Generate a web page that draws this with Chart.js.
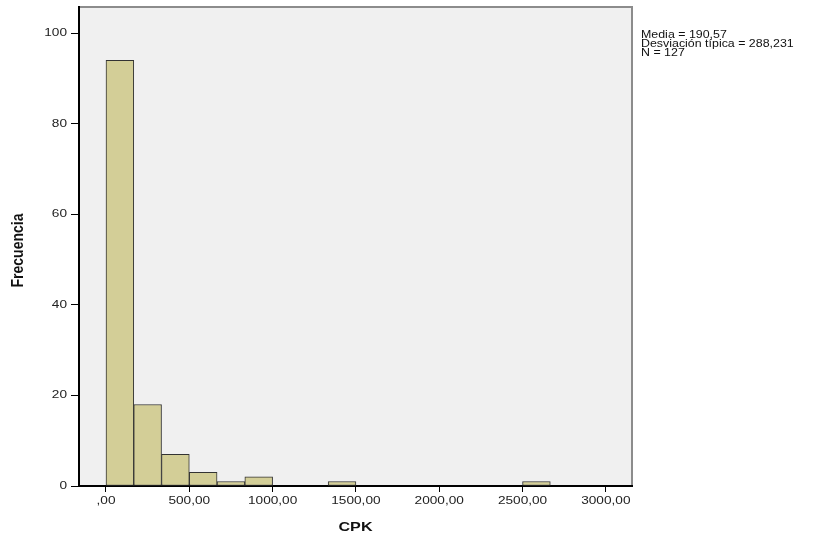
<!DOCTYPE html>
<html>
<head>
<meta charset="utf-8">
<script src="https://cdn.jsdelivr.net/npm/chart.js@4/dist/chart.umd.min.js"></script>
<style>
  html, body { margin: 0; padding: 0; background: #fff; }
  #wrap { width: 826px; height: 538px; }
</style>
</head>
<body>
<div id="wrap"><canvas id="histo" width="826" height="538"></canvas></div>
<script>
// Histogram of CPK: 18 bins of equal width between 0 and 3000
const binMin = 0;
const binMax = 3000;
const counts = [94, 18, 7, 3, 1, 2, 0, 0, 1, 0, 0, 0, 0, 0, 0, 1, 0, 0];
const xTicks = [0, 500, 1000, 1500, 2000, 2500, 3000];
const yTicks = [0, 20, 40, 60, 80, 100];
const statsLines = ['Media = 190,57', 'Desviación típica = 288,231', 'N = 127'];
const xTitle = 'CPK';
const yTitle = 'Frecuencia';

const binWidth = (binMax - binMin) / counts.length;
const points = counts.map((c, i) => ({
    x: binMin + binWidth * (i + 0.5),
    y: c > 0 ? c : null
}));

const FONT = '"Liberation Sans", Arial, sans-serif';
const STRETCH = 1.24; // the SPSS export is a bit wider than tall

function fmtX(v) {
    return v === 0 ? ',00' : v + ',00';
}

// draw text stretched horizontally around an anchor
function wideText(ctx, text, x, y, align) {
    ctx.save();
    ctx.translate(x, y);
    ctx.scale(STRETCH, 1);
    ctx.textAlign = align;
    ctx.fillText(text, 0, 0);
    ctx.restore();
}

// grey plot background + frame, like SPSS output
const frame = {
    id: 'frame',
    beforeDraw(chart) {
        const { ctx, chartArea: a } = chart;
        ctx.save();
        ctx.fillStyle = '#f0f0f0';
        ctx.fillRect(a.left, a.top, a.right - a.left, a.bottom - a.top);
        ctx.strokeStyle = '#8c8c8c';
        ctx.lineWidth = 2;
        ctx.beginPath();
        ctx.moveTo(a.left, a.top);
        ctx.lineTo(a.right, a.top);
        ctx.lineTo(a.right, a.bottom);
        ctx.stroke();
        ctx.restore();
    },
    afterDraw(chart) {
        const { ctx, chartArea: a, scales } = chart;
        ctx.save();
        ctx.textBaseline = 'middle';

        // tick labels
        ctx.fillStyle = '#222';
        ctx.font = '11px ' + FONT;
        xTicks.forEach(v => wideText(ctx, fmtX(v), scales.x.getPixelForValue(v), a.bottom + 15, 'center'));
        yTicks.forEach(v => wideText(ctx, String(v), a.left - 12, scales.y.getPixelForValue(v), 'right'));

        // axis titles
        ctx.fillStyle = '#111';
        ctx.font = 'bold 13px ' + FONT;
        wideText(ctx, xTitle, (a.left + a.right) / 2, 527, 'center');

        ctx.save();
        ctx.translate(19, (a.top + a.bottom) / 2 + 4);
        ctx.rotate(-Math.PI / 2);
        ctx.scale(1, 1.15);
        ctx.font = 'bold 14px ' + FONT;
        ctx.textAlign = 'center';
        ctx.fillText(yTitle, 0, 0);
        ctx.restore();

        // summary statistics text
        ctx.font = '10px ' + FONT;
        statsLines.forEach((t, i) => wideText(ctx, t, a.right + 9, 35.5 + i * 8.7, 'left'));
        ctx.restore();
    }
};

new Chart(document.getElementById('histo').getContext('2d'), {
    type: 'bar',
    data: {
        datasets: [{
            data: points,
            backgroundColor: '#d3ce97',
            borderColor: '#333333',
            borderWidth: 1,
            borderSkipped: false,
            barPercentage: 1,
            categoryPercentage: 1,
            grouped: false
        }]
    },
    options: {
        responsive: false,
        animation: false,
        devicePixelRatio: 1,
        layout: { padding: { left: 0, right: 194, top: 7, bottom: 0 } },
        plugins: { legend: { display: false }, tooltip: { enabled: false } },
        scales: {
            x: {
                type: 'linear',
                offset: false,
                min: -162,
                max: 3157,
                afterBuildTicks: s => { s.ticks = xTicks.map(v => ({ value: v })); },
                afterFit: s => { s.height = 52; },
                grid: { offset: false, drawOnChartArea: false, drawTicks: true, tickLength: 6, tickColor: '#000', tickWidth: 1 },
                border: { color: '#000', width: 2 },
                ticks: { display: false }
            },
            y: {
                min: 0,
                max: 105.8,
                afterBuildTicks: s => { s.ticks = yTicks.map(v => ({ value: v })); },
                afterFit: s => { s.width = 79; },
                grid: { drawOnChartArea: false, drawTicks: true, tickLength: 8, tickColor: '#000', tickWidth: 1 },
                border: { color: '#000', width: 2 },
                ticks: { display: false }
            }
        }
    },
    plugins: [frame]
});
</script>
</body>
</html>
